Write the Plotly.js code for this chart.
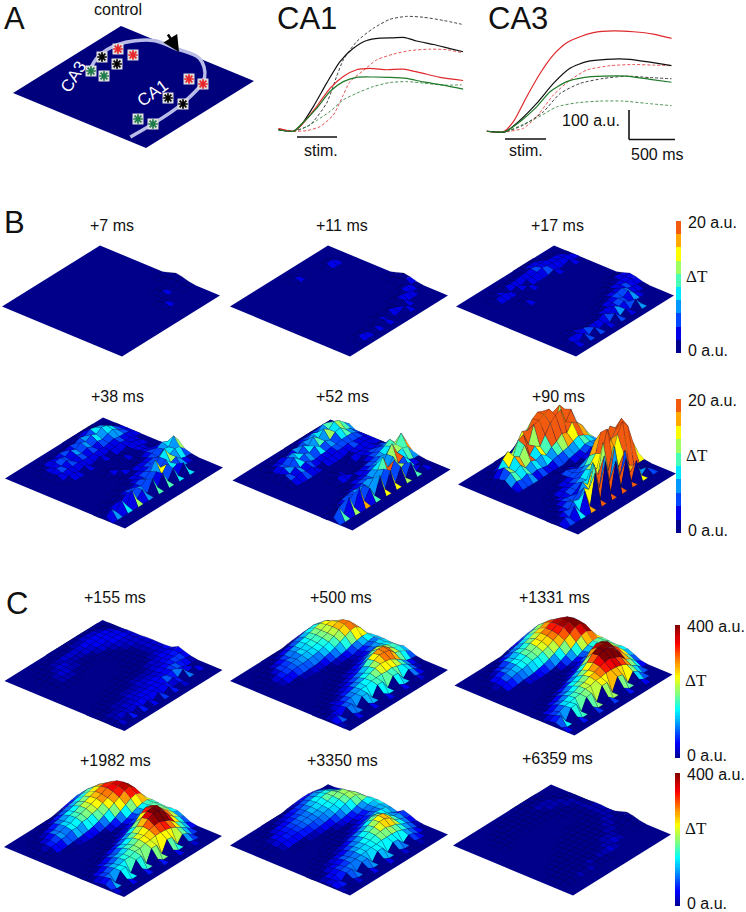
<!DOCTYPE html><html><head><meta charset="utf-8"><script src="https://cdn.plot.ly/plotly-3.0.1.min.js"></script></head><body style="margin:0;background:#fff"><div id="g" style="width:746px;height:912px"></div><script>
// ---- Panel A curves (time ms, signal a.u.)
const ca1_black_t=[-195,-35,35,178,320,462,604,746,888,1030,1154,1278,1456,1633,1775];
const ca1_black_v=[5,0,16,85,166,240,286,313,321,322,323,311,299,285,274];
const ca1_blackd_t=[-195,-35,142,320,426,497,639,817,994,1172,1349,1562,1757];
const ca1_blackd_v=[5,0,22,97,189,246,309,355,386,396,393,382,369];
const ca1_red_t=[-195,-35,53,213,355,497,639,781,959,1136,1314,1527,1775];
const ca1_red_v=[10,0,22,85,148,189,212,217,212,214,202,186,175];
const ca1_redd_t=[-195,-35,107,249,391,497,568,710,852,1030,1207,1420,1598,1757];
const ca1_redd_v=[7,0,2,16,56,125,171,209,246,266,278,283,281,271];
const ca1_green_t=[-195,-35,53,213,355,497,639,817,994,1172,1349,1562,1775];
const ca1_green_v=[5,0,25,79,137,171,186,187,186,182,170,159,145];
const ca1_greend_t=[-195,-35,107,213,355,497,639,817,994,1172,1349,1562,1757];
const ca1_greend_v=[5,0,16,37,68,108,131,154,168,171,166,159,160];
const ca3_red_t=[-195,-18,89,231,373,515,657,799,941,1154,1367,1580,1775];
const ca3_red_v=[2,0,35,121,201,265,307,328,342,348,345,337,322];
const ca3_black_t=[-195,0,160,337,515,692,870,1083,1331,1544,1775];
const ca3_black_v=[2,0,40,98,167,219,242,250,250,240,228];
const ca3_green_t=[-195,0,160,337,479,657,834,1047,1296,1544,1775];
const ca3_green_v=[2,0,35,86,138,173,187,192,192,181,171];
const ca3_blackd_t=[-195,0,195,408,586,799,1047,1296,1544,1775];
const ca3_blackd_v=[2,0,23,69,132,167,184,192,187,183];
const ca3_redd_t=[-195,0,195,337,515,692,870,1118,1367,1580,1775];
const ca3_redd_v=[2,0,12,52,127,178,213,228,232,230,228];
const ca3_greend_t=[-195,0,195,373,550,763,1012,1260,1509,1775];
const ca3_greend_v=[2,0,26,54,86,100,106,106,98,90];
// ---- Panel A schematic (fractions along the two slice edges)
const path_u=[.85,.84,.75,.59,.40,.25,.12,.12,.18];
const path_v=[.04,.54,.85,1,1,.99,.82,.64,.49];
const red_x=[118,133,189,203],red_y=[49,55,79,84];
const black_x=[102,117,168,183],black_y=[57,64,98,104];
const green_x=[91,104,138,153],green_y=[71,76,119,124];
// ---- Surfaces: rows along slice edge u, columns along v. B panels in a.u., C panels in 10 a.u.
const Z0=[];
const z_p7=[Z0,Z0,Z0,Z0,Z0,Z0,Z0,Z0,Z0,Z0,Z0,Z0,Z0,[0,0,0,0,0,0,0,0,0,0,0,0,0,0,0,2],Z0,[0,0,0,0,0,0,0,0,0,0,0,0,0,2],Z0,Z0,Z0,Z0];
const z_p11=[Z0,Z0,[0,0,0,0,0,0,0,0,0,0,2],[0,0,0,0,0,0,0,0,0,0,0,0,0,0,0,2,3],Z0,Z0,Z0,Z0,Z0,Z0,Z0,Z0,Z0,[0,0,0,0,0,0,0,0,0,0,0,0,0,0,0,0,0,0,2],[0,0,0,0,0,0,0,0,0,0,0,0,0,0,0,0,2,3],[0,0,0,0,0,0,0,0,0,0,0,0,0,0,3,3,2],[0,0,0,0,0,0,0,0,0,2,0,3,2,0,3],[0,0,0,0,2,2,0,2,0,2,0,0,0,3],Z0,Z0];
const z_p17=[Z0,[0,0,0,0,0,0,0,0,0,0,0,0,2,2,2],[0,0,0,0,0,2,0,2,2,2,3,3,4,3,3,3,2,2],[0,0,0,0,2,2,2,0,2,0,2,2,3,4,3,3,3,2,2],[0,0,0,0,0,0,0,0,0,2,0,0,0,0,2,0,0,2],Z0,[0,0,0,0,0,0,2],Z0,Z0,Z0,Z0,[0,0,0,0,0,0,0,0,0,0,0,0,0,0,0,0,0,3,2],[0,0,0,0,0,0,0,0,0,0,0,0,0,0,0,2,2,3,2],[0,0,0,0,0,0,0,0,0,0,0,0,0,2,3,3,4,3,2],[0,0,0,0,0,0,0,0,0,0,0,2,3,4,5,6,3,2],[0,0,0,0,2,0,0,0,0,2,3,3,4,5,3,6,2],[0,0,2,3,2,4,2,3,3,5,2,6,3,5,2],[0,0,2,0,4,0,4,0,2,0,5,0,3,0,6],Z0,Z0];
const z_p38=[Z0,[0,0,0,0,0,0,0,0,0,0,0,0,3,2,4,3,2],[0,0,0,0,0,2,3,2,4,3,5,4,6,5,8,7,6,3],[0,0,0,0,3,2,4,5,3,6,4,7,5,8,6,9,8,5,2],[0,0,0,0,2,4,3,5,2,4,3,5,3,5,4,6,7,4,2],[0,0,0,0,3,2,3,2,3,2,2,2,3,2,3,4,3,3,2],[0,0,0,0,0,2,2,0,2,0,0,2,0,2,2,3,2,2],[0,0,0,0,0,0,0,0,0,0,0,0,0,0,0,2,3,2],[0,0,0,0,0,0,0,0,0,0,0,0,0,2,0,2,2],[0,0,0,0,0,0,0,0,0,2,0,0,0,0,0,3,2],[0,0,0,0,0,0,0,0,0,0,2,0,0,0,2,4,3,4,3],[0,0,0,0,0,0,0,0,0,0,0,2,3,3,4,5,7,9,6,2],[0,0,0,0,0,0,0,0,0,2,2,3,4,5,6,4,8,7,12,4],[0,0,0,0,0,0,2,0,3,3,4,5,6,4,9,13,6,8,5],[0,0,0,2,0,3,4,3,5,6,4,7,14,5,9,4,6,2],[0,2,3,4,3,6,4,7,5,8,3,9,4,10,3,5],[3,7,2,9,2,12,2,7,1,11,1,10,1,9,0,8],Z0,Z0,Z0];
const z_p52=[Z0,[0,0,0,0,0,0,0,0,0,0,0,2,4,3,5,4,2],[0,0,0,0,0,2,3,5,3,6,5,7,6,9,7,11,10,8,4],[0,0,0,0,3,5,4,7,8,5,9,6,11,7,12,9,13,11,7,3],[0,0,0,0,3,6,4,9,5,7,5,8,5,7,5,9,10,6,4],[0,0,0,0,5,3,6,3,5,3,2,3,3,4,4,5,5,5,3],[0,0,0,0,2,3,4,2,3,0,2,2,2,3,3,4,3,3,2],[0,0,0,0,0,0,0,0,0,0,0,0,0,0,2,2,3,3,2],[0,0,0,0,0,0,0,0,0,0,0,0,0,2,3,2,2,3],[0,0,0,0,0,0,0,0,0,2,0,0,0,0,3,4,3,4,3],[0,0,0,0,0,0,0,0,2,3,0,0,0,3,5,5,7,6,5,2],[0,0,0,0,0,0,0,0,0,0,3,3,4,5,6,8,10,13,7,3],[0,0,0,0,0,0,0,0,2,3,3,5,6,7,9,7,12,11,16,5],[0,0,0,0,0,0,2,3,4,5,6,8,10,6,13,19,9,10,7],[0,0,0,2,4,5,6,5,7,8,6,10,18,7,13,5,8,3],[0,2,4,6,4,8,5,10,6,11,4,13,5,15,4,7,2],[4,10,2,13,2,16,2,10,1,15,1,14,1,12,0,10,0,3],Z0,Z0,Z0];
const z_p90=[Z0,[0,0,0,0,0,0,0,0,3,5,8,12,15,18,15,10,6,2],[0,0,0,0,3,5,8,12,9,15,22,20,27,30,28,25,22,14,5],[0,0,0,3,8,14,18,11,22,24,13,27,28,30,32,12,30,24,10,2],[0,0,0,5,12,9,16,13,20,9,14,11,18,25,29,31,18,26,13,3],[0,0,0,6,10,8,11,6,9,7,9,6,10,12,16,14,20,17,12,4],[0,0,0,2,5,4,6,3,4,3,2,4,5,6,7,9,11,9,6,2],[0,0,0,0,0,0,0,0,0,0,0,0,0,2,3,4,6,6,4,2],[0,0,0,0,0,0,0,0,0,3,0,2,0,0,2,3,6,5,4,2],[0,0,0,0,0,0,0,0,0,4,5,3,2,3,3,7,9,7,3],[0,0,0,0,0,0,0,2,3,4,5,6,8,9,14,18,12,8,3],[0,0,0,0,0,2,3,3,4,5,7,10,16,25,18,22,30,26,14,4],[0,0,0,0,3,2,4,5,6,8,12,14,20,35,16,24,30,36,18,4],[0,0,0,3,4,4,3,5,9,8,14,12,22,40,14,30,38,32,14,2],[0,0,3,4,6,4,7,14,9,25,12,36,10,28,8,16,4],[0,3,5,4,8,7,14,10,28,6,30,6,32,5,24,3,6],[2,5,2,9,2,16,1,26,1,30,1,25,1,22,0,15,0,4],Z0,Z0,Z0];
const z_p155=[Z0,[0,0,0,0,0,0,0,0,0,1,1,2,2,3,3,3,2,1],[0,0,0,0,0,1,2,2,3,3,3,3,4,4,5,5,4,3,1],[0,0,0,0,1,2,3,3,2,2,2,3,3,4,4,5,5,4,2],[0,0,0,1,2,3,3,2,2,1,1,1,2,3,3,4,5,4,3,1],[0,0,0,1,2,2,2,1,1,1,0,0,1,1,2,3,3,3,3,1],[0,0,0,0,1,1,1,0,0,0,0,0,0,1,1,2,3,3,3,1],[0,0,0,0,0,0,0,0,0,0,0,0,0,0,1,1,2,3,3,2],[0,0,0,0,0,0,0,0,0,0,0,0,0,0,1,1,2,3,3,2],[0,0,0,0,0,0,0,0,0,0,0,0,0,1,1,1,2,3,3,2],[0,0,0,0,0,0,0,0,0,0,0,0,1,1,1,2,3,3,4,2],[0,0,0,0,0,0,0,0,0,1,1,1,1,2,3,3,4,5,3],[0,0,0,0,0,0,1,1,1,2,2,2,2,3,3,4,5,6,5,2],[0,0,0,1,1,1,2,2,2,3,3,3,3,4,5,6,7,7,4],[0,1,1,2,2,2,3,3,3,3,4,4,5,5,7,8,6,5,2],[1,2,2,2,3,3,3,4,4,4,5,5,8,6,9,6,4],[1,2,3,3,3,4,4,5,4,5,5,6,3,6,1,9,0,4],[0,3,0,6,0,6,1,5,0,7,0,6,0,3],Z0,Z0];
const z_p500=[[0,0,0,0,0,0,0,0,0,0,0,2,3,4,5,5,4,2],[0,0,0,0,0,0,0,2,4,6,8,10,12,14,16,17,15,10,4],[0,0,0,0,1,3,5,7,9,11,13,15,17,19,22,24,23,16,7,1],[0,0,0,1,3,7,7,10,9,13,13,16,17,20,22,26,27,22,9,2],[0,0,1,3,6,7,8,10,11,12,13,14,16,19,22,27,30,28,15,4],[0,0,0,2,4,5,7,8,8,9,10,12,14,17,21,26,30,30,20,6],[0,0,0,0,0,1,2,2,3,3,4,7,9,12,16,20,24,25,18,6],[0,0,0,0,0,0,0,0,0,0,1,2,3,5,7,10,12,14,13,7],[0,0,0,0,0,0,0,0,0,0,0,0,1,2,3,6,8,10,12,8],[0,0,0,0,0,0,0,0,0,0,1,1,2,3,5,8,11,13,13,8],[0,0,0,0,0,0,0,0,1,2,3,4,6,8,11,13,14,14,12,7],[0,0,0,0,0,0,1,2,3,4,6,8,12,18,22,24,21,17,13,4],[0,0,0,0,1,2,3,5,7,9,12,17,24,28,30,29,22,16,12,3],[0,0,1,3,2,6,6,10,11,14,16,21,26,30,29,27,18,15,8,1],[0,1,3,5,7,9,11,13,15,17,20,23,25,24,22,17,11,5,1],[2,5,5,8,9,11,12,14,14,17,17,18,17,18,15,13,8,2],[4,8,0,10,10,0,12,12,0,15,15,0,14,13,0,9,5,0],[2,0,0,4,0,0,5,0,0,5,0,0,4,0,0,3],Z0,Z0];
const z_p1331=[[0,0,0,0,0,0,0,0,0,0,3,5,7,9,11,12,10,7,3],[0,0,0,0,0,0,0,4,7,9,11,13,16,19,21,24,22,16,8,2],[0,0,0,0,2,6,7,12,12,16,16,20,22,26,28,32,31,27,14,6],[0,0,0,4,6,10,10,14,14,18,20,24,26,30,33,37,37,34,21,9],[0,0,2,5,8,11,12,14,16,18,20,23,26,30,33,38,41,40,28,12],[0,0,1,4,6,8,10,11,13,15,16,19,22,27,31,37,41,42,33,15],[0,0,0,0,0,1,3,3,4,6,8,11,15,20,26,31,36,38,31,15],[0,0,0,0,0,0,0,0,0,0,1,3,7,11,16,22,27,29,25,13],[0,0,0,0,0,0,0,0,0,0,0,0,2,5,8,12,16,18,18,13],[0,0,0,0,0,0,0,0,0,1,2,3,5,8,11,14,17,19,18,12],[0,0,0,0,0,0,0,1,2,4,6,9,12,16,20,23,23,22,18,11],[0,0,0,0,1,2,4,6,9,12,16,21,28,37,42,40,28,22,15,9],[0,0,1,4,4,8,9,14,15,19,24,31,40,45,46,44,32,24,12,5],[1,4,4,8,9,13,14,18,20,25,28,35,42,45,44,39,27,18,8,2],[3,7,8,13,14,17,18,22,23,27,29,33,35,36,32,28,19,14,4],[6,10,11,15,16,18,19,22,22,25,25,27,27,26,24,20,13,8],[8,14,0,16,17,0,18,19,0,21,21,0,20,18,0,13,8,0],[4,0,0,6,0,0,7,0,0,7,0,0,6,0,0,4],Z0,Z0];
const z_p1982=[[0,0,0,0,0,0,0,0,0,0,2,4,6,8,10,10,8,6,3],[0,0,0,0,0,0,0,3,6,8,10,12,14,16,18,20,18,13,8,2],[0,0,0,0,2,5,6,10,11,14,15,18,20,23,25,28,27,23,13,5],[0,0,0,3,5,9,9,13,13,17,18,22,24,27,30,33,33,30,19,8],[0,0,2,6,7,11,10,14,14,18,19,22,24,28,30,35,36,36,25,11],[0,0,1,5,5,8,8,12,11,15,15,18,20,25,28,33,37,38,30,14],[0,0,0,0,0,1,2,3,4,5,7,10,14,19,24,28,33,35,28,14],[0,0,0,0,0,0,0,0,0,0,1,3,6,10,15,20,25,27,23,12],[0,0,0,0,0,0,0,0,0,0,0,0,2,4,7,11,15,17,17,12],[0,0,0,0,0,0,0,0,0,1,2,3,5,7,10,13,16,18,17,11],[0,0,0,0,0,0,0,1,2,4,6,8,11,14,18,21,21,20,17,10],[0,0,0,0,1,2,4,6,8,11,15,19,25,33,38,36,27,21,15,8],[0,0,1,4,4,8,8,13,14,18,22,27,36,41,42,40,29,22,11,5],[1,4,4,8,8,12,13,17,18,23,25,31,38,42,41,36,24,16,8,2],[3,7,8,12,12,16,17,20,21,25,26,30,32,33,29,25,17,12,4],[5,10,11,14,14,17,17,20,20,23,23,25,25,24,22,18,12,7],[7,12,0,14,15,0,16,17,0,19,19,0,18,16,0,11,7,0],[3,0,0,5,0,0,6,0,0,6,0,0,5,0,0,3],Z0,Z0];
const z_p3350=[[0,0,0,0,0,0,0,0,0,0,0,2,3,4,5,5,4,2],[0,0,0,0,0,0,0,2,3,4,6,7,8,10,11,12,10,7,3],[0,0,0,0,1,3,4,5,6,7,8,10,12,14,15,16,15,11,6,2],[0,0,0,2,4,5,6,7,8,9,10,12,13,15,18,19,18,14,9,3],[0,0,1,3,5,6,6,7,8,9,10,11,12,14,16,19,21,20,12,5],[0,0,1,2,4,4,5,6,6,7,8,9,11,13,15,18,21,21,15,7],[0,0,0,0,0,1,1,2,2,3,4,5,7,9,12,15,18,19,15,7],[0,0,0,0,0,0,0,0,0,0,1,2,3,4,6,8,11,14,15,9],[0,0,0,0,0,0,0,0,0,0,0,0,1,2,4,6,9,12,14,9],[0,0,0,0,0,0,0,0,0,1,1,2,3,4,6,8,10,12,12,8],[0,0,0,0,0,0,0,1,1,2,3,5,7,9,11,13,14,13,11,6],[0,0,0,0,1,1,2,3,5,7,9,11,14,18,21,20,15,11,5],[0,0,1,2,3,4,5,7,9,11,14,17,21,25,27,25,17,11,7,3],[0,1,3,5,4,8,8,11,12,14,16,20,23,26,26,22,14,10,4,1],[2,4,4,7,7,10,10,13,13,15,16,19,20,21,18,16,11,8,2],[3,5,6,8,9,10,11,12,13,14,14,15,15,15,14,11,8,4],[4,6,0,8,9,0,10,11,0,12,12,0,11,10,0,7,5,0],[2,0,0,3,0,0,4,0,0,4,0,0,3,0,0,2],Z0,Z0];
const z_p6359=[Z0,[0,0,0,0,0,0,0,0,0,0,0,0,1,1,1,1],[0,0,0,0,0,0,0,1,1,1,1,1,1,2,2,2,1],[0,0,0,0,0,1,1,1,1,1,1,1,1,1,2,2,2,1],[0,0,0,0,1,1,1,0,0,1,1,1,1,1,1,1,2,2,1],[0,0,0,0,1,0,0,0,0,0,0,0,0,0,1,1,1,2,1],[0,0,0,0,0,0,0,0,0,0,0,0,0,0,0,1,1,2,1],[0,0,0,0,0,0,0,0,0,0,0,0,0,0,0,0,1,2,2,1],[0,0,0,0,0,0,0,0,0,0,0,0,0,0,0,0,1,2,2,1],[0,0,0,0,0,0,0,0,0,0,0,0,1,1,0,1,1,2,2],[0,0,0,0,0,0,0,0,0,0,1,1,1,1,1,1,2,2,1],[0,0,0,0,0,0,0,0,1,1,1,1,1,1,1,2,2,1],[0,0,0,0,0,0,1,1,1,1,1,1,1,1,2,2,1],[0,0,0,0,1,1,1,1,1,1,1,1,2,2,2,1],[0,0,0,1,1,1,1,1,1,1,1,2,2,3,2],[0,0,1,1,1,1,1,2,1,2,2,3,2],[0,0,1,1,2,1,2,1,1,1,1],Z0,Z0,Z0];
const relief_v19=[0,0,0,0,0,0,0,0,0,0,0,2,4,3,1,0,0,0,0,0];
const relief_v18=[0,0,0,0,0,0,0,0,0,0,0,1,2,2,1,0,0,0,0,0];
const bandColors=['#00008f','#0000e6','#0048ff','#0098ff','#00e8ff','#48ffb8','#a0ff60','#ffff00','#ffa800','#f25a10'];
const jetStops=[[0,0,0,143],[.11,0,0,255],[.36,0,255,255],[.61,255,255,0],[.86,255,0,0],[1,128,0,0]];
// ---- Layout tables
const N=20,EDGE1=[120,50],EDGE2=[98,-61],NAVY='#00008b';
const B_PX=1.2,C_PX=.62;
const panels=[
 ['+7 ms',z_p7,'B',111,301,112,225],['+11 ms',z_p11,'B',339,301,342,225],['+17 ms',z_p17,'B',565,301,557,225],
 ['+38 ms',z_p38,'B',114,473,117,396],['+52 ms',z_p52,'B',341.5,475,342,396],['+90 ms',z_p90,'B',567,479,558,396],
 ['+155 ms',z_p155,'C',113.5,675.5,115,597],['+500 ms',z_p500,'C',339,675.5,341,597],['+1331 ms',z_p1331,'C',563.5,680,554,597],
 ['+1982 ms',z_p1982,'C',113,841.5,115,760],['+3350 ms',z_p3350,'C',339,840,342,760],['+6359 ms',z_p6359,'C',562,840,557,758]];
function jet(f){f=Math.max(0,Math.min(1,f));for(let i=1;i<jetStops.length;i++){const a=jetStops[i-1],b=jetStops[i];if(f<=b[0]){const t=(f-a[0])/(b[0]-a[0]);return 'rgb('+[1,2,3].map(k=>Math.round(a[k]+(b[k]-a[k])*t)).join(',')+')';}}}
function colorOf(kind,v){return kind==='B'?bandColors[Math.min(9,Math.floor(v/2))]:jet(Math.floor(Math.min(v,40)/40*31.99)/31);}
const traces=[];
function poly(xs,ys,col,line){traces.push({type:'scatter',mode:'lines',x:xs,y:ys,fill:'toself',fillcolor:col,line:{color:line,width:line==='rgba(0,0,0,0)'?0:.5,simplify:false},hoverinfo:'skip',showlegend:false,xaxis:'x',yaxis:'y'});}
panels.forEach(p=>{
 const z=p[1],kind=p[2],lx=p[3]-(EDGE1[0]+EDGE2[0])/2,ly=p[4]-(EDGE1[1]+EDGE2[1])/2,pxU=kind==='B'?B_PX:C_PX;
 const val=(a,b)=>(z[a]&&z[a][b])||0;
 const rel=(a,b)=>b===19?relief_v19[a]:b===18?relief_v18[a]:0;
 const sx=(a,b)=>lx+EDGE1[0]*a/(N-1)+EDGE2[0]*b/(N-1);
 const sy=(a,b)=>ly+EDGE1[1]*a/(N-1)+EDGE2[1]*b/(N-1)-val(a,b)*pxU-rel(a,b);
 poly([sx(0,0),sx(N-1,0),sx(N-1,N-1),sx(0,N-1),sx(0,0)],[ly,ly+EDGE1[1],ly+EDGE1[1]+EDGE2[1],ly+EDGE2[1],ly],NAVY,'rgba(0,0,0,0)');
 let last=null,gx=[],gy=[];
 const flush=()=>{if(last!==null&&gx.length)poly(gx,gy,last,'rgba(0,0,30,.35)');gx=[];gy=[];};
 for(let d=-(N-2);d<=N-2;d++){
  const groups=new Map();
  for(let a=0;a<N-1;a++){const b=a-d;if(b<0||b>=N-1)continue;
   const c=[[a,b],[a+1,b],[a+1,b+1],[a,b+1]];
   if(c.every(q=>val(q[0],q[1])===0&&rel(q[0],q[1])===0))continue;
   const col=colorOf(kind,val(a,b));
   if(!groups.has(col))groups.set(col,[]);groups.get(col).push(c);}
  const order=[...groups.keys()].sort((m,n)=>(n===last)-(m===last));
  order.forEach(col=>{if(col!==last){flush();last=col;}
   groups.get(col).forEach(c=>{c.concat([c[0]]).forEach(q=>{gx.push(sx(q[0],q[1]));gy.push(sy(q[0],q[1]));});gx.push(null);gy.push(null);});});
 }
 flush();
});
// Panel A slice
const AL=[13,93],AE1=[133,55],AE2=[108,-67];
const ax=(u,v)=>AL[0]+AE1[0]*u+AE2[0]*v,ay=(u,v)=>AL[1]+AE1[1]*u+AE2[1]*v;
poly([ax(0,0),ax(1,0),ax(1,1),ax(0,1),ax(0,0)],[ay(0,0),ay(1,0),ay(1,1),ay(0,1),ay(0,0)],'#00007d','rgba(0,0,0,0)');
traces.push({type:'scatter',mode:'lines',x:path_u.map((u,i)=>ax(u,path_v[i])),y:path_u.map((u,i)=>ay(u,path_v[i])),line:{color:'#b9bce6',width:3.5,shape:'spline'},hoverinfo:'skip',showlegend:false});
[[red_x,red_y,'#e8262a'],[black_x,black_y,'#000'],[green_x,green_y,'#1f7a4a']].forEach(s=>{
 traces.push({type:'scatter',mode:'markers',x:s[0],y:s[1],marker:{symbol:'square',size:11,color:'#dedede'},hoverinfo:'skip',showlegend:false});
 traces.push({type:'scatter',mode:'markers',x:s[0],y:s[1],marker:{symbol:'asterisk-open',size:8,color:s[2],line:{color:s[2],width:1.7}},hoverinfo:'skip',showlegend:false});});
// Traces of panel A
function curve(t,v,col,dash,ax2){traces.push({type:'scatter',mode:'lines',x:t,y:v,xaxis:'x'+ax2,yaxis:'y'+ax2,line:{color:col,width:dash?.8:1.2,dash:dash?'3px,2px':'solid',shape:'spline',smoothing:.6},hoverinfo:'skip',showlegend:false});}
const RED='#e0282c',GRN='#1f7a2a',BLK='#111';
curve(ca1_blackd_t,ca1_blackd_v,BLK,1,2);curve(ca1_redd_t,ca1_redd_v,RED,1,2);curve(ca1_greend_t,ca1_greend_v,GRN,1,2);
curve(ca1_black_t,ca1_black_v,BLK,0,2);curve(ca1_red_t,ca1_red_v,RED,0,2);curve(ca1_green_t,ca1_green_v,GRN,0,2);
curve(ca3_blackd_t,ca3_blackd_v,BLK,1,3);curve(ca3_redd_t,ca3_redd_v,RED,1,3);curve(ca3_greend_t,ca3_greend_v,GRN,1,3);
curve(ca3_red_t,ca3_red_v,RED,0,3);curve(ca3_black_t,ca3_black_v,BLK,0,3);curve(ca3_green_t,ca3_green_v,GRN,0,3);
// Colour bars
const bandLevels=bandColors.map((c,i)=>[i]);
const bandScale=[];bandColors.forEach((c,i)=>{bandScale.push([i/10,c],[(i+1)/10,c]);});
const jetLevels=Array.from({length:64},(_,i)=>[i]);
const jetScale=jetStops.map(s=>[s[0],'rgb('+s.slice(1).join(',')+')']);
function cbar(levels,scale,x,top,bot){const n=levels.length;traces.push({type:'heatmap',z:levels,x0:x+2.5,dx:5,y0:bot-(bot-top)/n/2,dy:-(bot-top)/n,colorscale:scale,zmin:-.5,zmax:n-.5,showscale:false,hoverinfo:'skip',xaxis:'x',yaxis:'y'});}
cbar(bandLevels,bandScale,676,221,353);cbar(bandLevels,bandScale,676,399,533);cbar(jetLevels,jetScale,675,625,758);cbar(jetLevels,jetScale,675,773,906);
// Text
const FONT='"Liberation Sans",Arial,sans-serif';
const ann=[];
function txt(t,x,y,size,o){ann.push(Object.assign({text:t,x:x,y:y,xref:'x',yref:'y',showarrow:false,font:{family:FONT,size:size,color:'#111'},xanchor:'center',yanchor:'middle'},o||{}));}
panels.forEach(p=>txt(p[0],p[5],p[6],16));
txt('A',14,18,31);txt('B',14,222,31);txt('C',17,603,31);
txt('control',118,9,16);txt('CA1',307,18,31);txt('CA3',518,18,31);
txt('stim.',320.5,150,16);txt('stim.',526,150,16);txt('100 a.u.',591,120,16);txt('500 ms',657,154,16);
txt('CA3',73,77,17,{textangle:-58,font:{family:FONT,size:17,color:'#fff'}});
txt('CA1',152,93,17,{textangle:-36,font:{family:FONT,size:17,color:'#fff'}});
[[221,353,'20 a.u.',686],[399,533,'20 a.u.',686],[625,758,'400 a.u.',685],[773,906,'400 a.u.',685]].forEach(b=>{
 txt(b[2],b[3],b[0]+1,16,{xanchor:'left'});txt('0 a.u.',b[3],b[1]-3,16,{xanchor:'left'});
 txt('ΔT',b[3]-2,(b[0]+b[1])/2-11,17,{xanchor:'left',font:{family:'"Liberation Serif",serif',size:17,color:'#111'}});});
ann.push({x:179,y:52,ax:167,ay:33,xref:'x',yref:'y',axref:'x',ayref:'y',showarrow:true,arrowhead:2,arrowsize:1.3,arrowwidth:2.5,arrowcolor:'#000',text:''});
const ln=(x0,y0,x1,y1,w)=>({type:'line',xref:'x',yref:'y',x0,y0,x1,y1,line:{color:'#111',width:w}});
const shapes=[ln(297,137,337,137,1.6),ln(505,139,546,139,1.6),ln(629,110,629,139.5,1.6),ln(629,139.5,675,139.5,1.6)];
const hid={visible:false,fixedrange:true};
const layout={width:746,height:912,margin:{l:0,r:0,t:0,b:0},paper_bgcolor:'#fff',plot_bgcolor:'rgba(0,0,0,0)',showlegend:false,
 xaxis:{...hid,range:[0,746],domain:[0,1]},yaxis:{...hid,range:[912,0],domain:[0,1]},
 xaxis2:{...hid,range:[-195,1775],domain:[278.3/746,463.3/746],anchor:'y2'},yaxis2:{...hid,range:[-13,418],domain:[1-135/912,1-10/912],anchor:'x2'},
 xaxis3:{...hid,range:[-195,1775],domain:[486.7/746,671.7/746],anchor:'y3'},yaxis3:{...hid,range:[-12,419],domain:[1-135.3/912,1-10.3/912],anchor:'x3'},
 annotations:ann,shapes:shapes};
Plotly.newPlot('g',traces,layout,{staticPlot:true});
</script></body></html>
